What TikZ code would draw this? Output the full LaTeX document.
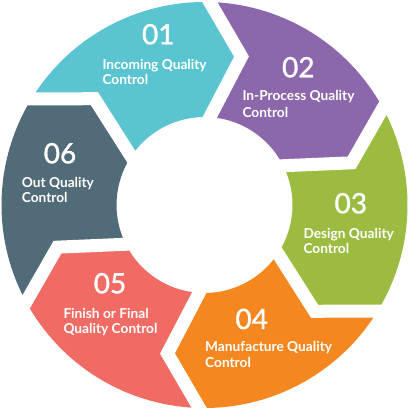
\documentclass[tikz,border=0pt]{standalone}
\usepackage{fontspec}
\setmainfont{Lato}
\newfontfamily\numfont{Lato}[FakeBold=1.2]
\usetikzlibrary{calc}
\definecolor{cA}{HTML}{5AC4D0}
\definecolor{cB}{HTML}{8D67AB}
\definecolor{cC}{HTML}{9BBC40}
\definecolor{cD}{HTML}{F58720}
\definecolor{cE}{HTML}{F06B63}
\definecolor{cF}{HTML}{516B78}
\tikzset{
  num/.style={text=white, font=\numfont\fontsize{28}{30}\selectfont, anchor=base, inner sep=0pt},
  lab/.style={text=white, font=\fontsize{13.7}{16}\selectfont\bfseries, anchor=base west, inner sep=0pt},
  cutline/.style={white, line width=13pt, line join=miter}
}
\begin{document}
\begin{tikzpicture}[x=1pt,y=1pt]
\fill[white] (0,0) rectangle (409,411);
\useasboundingbox (0,0) rectangle (409,411);
\def\rOut{203}
\def\rIn{88}
\def\rMid{153}
\begin{scope}[shift={(204.5,206)}]
\foreach \s/\col in {148/cA, 88/cB, 28/cC, -32/cD, -92/cE, -152/cF} {
  \pgfmathsetmacro\e{\s-60}
  \fill[\col] ({\s+0.5}:\rOut) arc[start angle=\s+0.5, end angle=\e+0.5, radius=\rOut]
     -- ({\e-12}:\rMid) -- ({\e-1.5}:\rIn)
     arc[start angle=\e-1.5, end angle=\s-1.5, radius=\rIn]
     -- ({\s-12}:\rMid) -- cycle;
}
\foreach \b [count=\k] in {148, 88, 28, -32, -92, -152} {
  \coordinate (co\k) at ({\b+0.5}:\rOut);
  \coordinate (cm\k) at ({\b-12}:\rMid);
  \coordinate (ci\k) at ({\b-1.5}:\rIn);
  \draw[cutline] ($(cm\k)!1.3!(co\k)$) -- (cm\k) -- ($(cm\k)!1.5!(ci\k)$);
}
\end{scope}
% numbers
\node[num] (n1) at (158.3,366.7) {01};
\node[num] (n2) at (298.3,333.7) {02};
\node[num] (n3) at (350.8,197.7) {03};
\node[num] (n4) at (251.7,82) {04};
\node[num] (n5) at (110,117.7) {05};
\node[num] (n6) at (60,247.7) {06};
% labels
\node[lab] (a1) at (102.3,341.7) {Incoming Quality};
\node[lab] (b1) at (102.3,326) {Control};
\node[lab] (a2) at (242.3,310) {In-Process Quality};
\node[lab] (b2) at (242.3,293.3) {Control};
\node[lab] (a3) at (303.3,172.7) {Design Quality};
\node[lab] (b3) at (303.3,157.7) {Control};
\node[lab] (a4) at (205,59.3) {Manufacture Quality};
\node[lab] (b4) at (205,43.3) {Control};
\node[lab] (a5) at (63.3,92.7) {Finish or Final};
\node[lab] (b5) at (63.3,77.7) {Quality Control};
\node[lab] (a6) at (21.7,223.7) {Out Quality};
\node[lab] (b6) at (21.7,208.3) {Control};
\end{tikzpicture}
\end{document}
